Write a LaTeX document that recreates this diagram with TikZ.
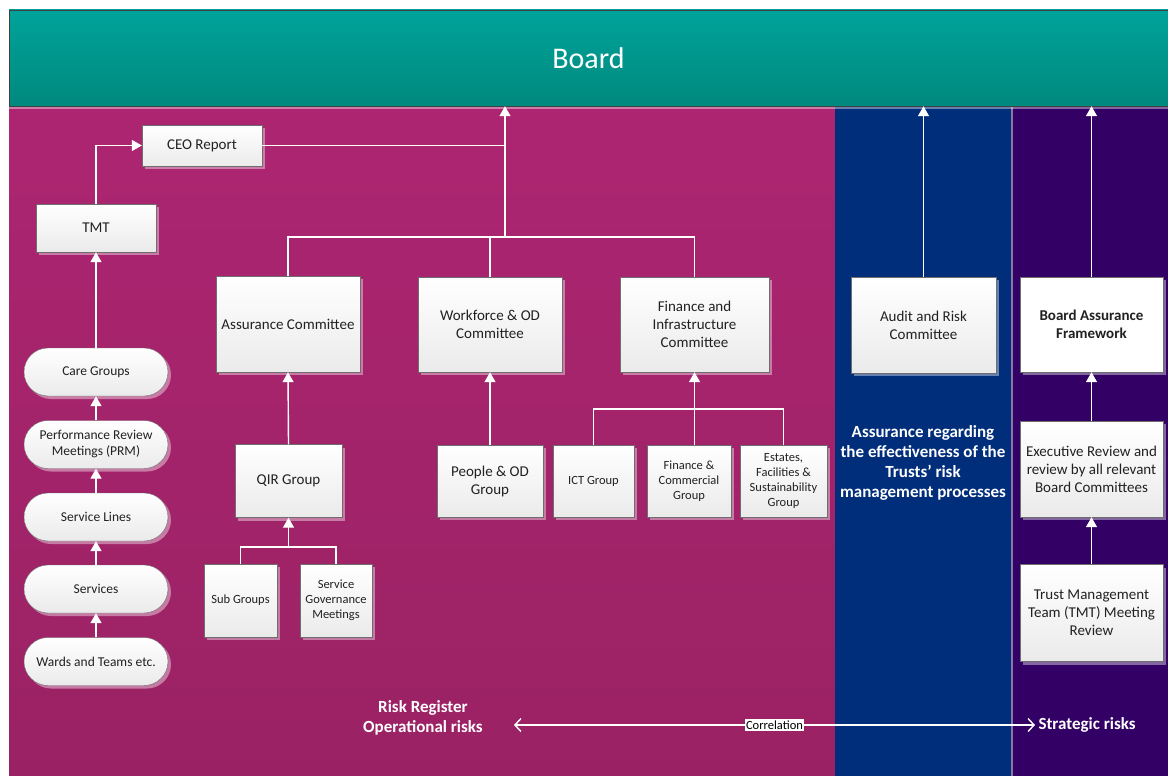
\documentclass[tikz,border=0pt]{standalone}
\usepackage{fontspec}
\setmainfont{Carlito}
\usetikzlibrary{arrows.meta,shadows}
\definecolor{boardtop}{HTML}{00A39A}
\definecolor{boardbot}{HTML}{00897E}
\definecolor{magtop}{HTML}{AD2571}
\definecolor{magbot}{HTML}{9A2264}
\definecolor{assurblue}{HTML}{012E7B}
\definecolor{bafpurple}{HTML}{330066}
\definecolor{divgrey}{HTML}{8878A8}

\begin{document}
\begin{tikzpicture}[x=1pt, y=-1pt,
    box/.style={draw=black!57, top color=white, bottom color=black!8, text=black!87,
        align=center, inner sep=2pt, font=\fontsize{15}{18}\selectfont,
        drop shadow={shadow xshift=3pt, shadow yshift=-3pt, fill=white, opacity=0.4}},
    small/.style={box, font=\fontsize{12.5}{15}\selectfont},
    pill/.style={box, rounded corners=24pt, minimum width=144pt, minimum height=48pt,
        font=\fontsize{13.5}{16}\selectfont},
    link/.style={draw=white, line width=1.4pt},
    uplink/.style={link, -{Triangle[length=10pt, width=11pt]}},
    note/.style={text=white, align=center, font=\bfseries\fontsize{17}{20}\selectfont}]

\useasboundingbox (0,0) rectangle (1168,776);

\fill[top color=magtop, bottom color=magbot] (9,106) rectangle (835,776);
\fill[assurblue] (835,106) rectangle (1012,776);
\fill[bafpurple] (1012,106) rectangle (1168,776);
\draw[divgrey, line width=2pt] (1012,106) -- (1012,776);

\node[draw=black!75, top color=boardtop, bottom color=boardbot, text=white,
    minimum width=1159pt, minimum height=96pt, font=\fontsize{30}{36}\selectfont,
    drop shadow={shadow xshift=0pt, shadow yshift=-2.5pt, fill=white, opacity=0.4}]
    (board) at (588.5,58) {Board};

\node[box, minimum width=120pt, minimum height=41pt] (ceo) at (202,145.5) {CEO Report};
\node[box, minimum width=120pt, minimum height=48pt] (tmt) at (96,228) {TMT};

\node[pill] (care) at (96,372) {Care Groups};
\node[pill] (prm) at (96,444.5) {Performance Review\\Meetings (PRM)};
\node[pill] (lines) at (96,517) {Service Lines};
\node[pill] (services) at (96,589) {Services};
\node[pill] (wards) at (96,661.5) {Wards and Teams etc.};

\node[box, minimum width=144pt, minimum height=96pt] (assur) at (288,324) {Assurance Committee};
\node[box, minimum width=107pt, minimum height=73pt] (qir) at (288.5,481) {QIR Group};
\node[small, minimum width=73pt, minimum height=73pt] (subg) at (240.5,600.5) {Sub Groups};
\node[small, minimum width=72pt, minimum height=73pt] (sgm) at (336,600.5) {Service\\Governance\\Meetings};

\node[box, minimum width=144pt, minimum height=95pt] (wod) at (490,324.5) {Workforce \& OD\\Committee};
\node[box, minimum width=106pt, minimum height=72pt] (pod) at (490,481) {People \& OD\\Group};

\node[box, minimum width=149pt, minimum height=95pt] (fic) at (694.5,324.5) {Finance and\\Infrastructure\\Committee};
\node[small, minimum width=81pt, minimum height=72pt] (ict) at (593.5,481) {ICT Group};
\node[small, minimum width=84pt, minimum height=72pt] (fcg) at (689,481) {Finance \&\\Commercial\\Group};
\node[small, minimum width=87pt, minimum height=72pt] (efs) at (783.5,481) {Estates,\\Facilities \&\\Sustainability\\Group};

\node[box, minimum width=145pt, minimum height=96pt] (arc) at (923.5,325) {Audit and Risk\\Committee};
\node[note] (assure) at (923,463) {Assurance regarding\\the effectiveness of the\\Trusts’ risk\\management processes};

\node[box, fill=white, top color=white, bottom color=white, font=\bfseries\fontsize{15}{18}\selectfont,
    minimum width=143pt, minimum height=95pt] (baf) at (1091.5,324.5) {Board Assurance\\Framework};
\node[box, minimum width=143pt, minimum height=96pt] (exec) at (1091.5,469) {Executive Review and\\review by all relevant\\Board Committees};
\node[box, minimum width=143pt, minimum height=97pt] (tmtr) at (1091.5,613) {Trust Management\\Team (TMT) Meeting\\Review};

\node[note] (oprisk) at (423,718) {Risk Register\\Operational risks};
\node[note, anchor=west] (strisk) at (1035,725) {Strategic risks};

\coordinate (hub) at (505,237);
\coordinate (qj) at (288.5,547);
\coordinate (fj) at (694.5,409);
\coordinate (corl) at (514,725);

\draw[uplink] (tmt.north) |- (ceo.west);
\draw[link] (ceo.east) -- (ceo.east -| hub);
\draw[uplink] (hub) -- (hub |- board.south);
\draw[link] (assur.north) |- (hub) -| (fic.north);
\draw[link] (wod.north) -- (wod.north |- hub);

\foreach \lo/\hi in {wards/services, services/lines, lines/prm, prm/care, care/tmt}
    \draw[uplink] (\lo.north) -- (\hi.south);

\draw[uplink] (qir.north) -- (assur.south);
\draw[link] (subg.north) |- (qj) -| (sgm.north);
\draw[uplink] (qj) -- (qir.south);

\draw[uplink] (pod.north) -- (wod.south);
\draw[link] (ict.north) |- (fj) -| (efs.north);
\draw[uplink] (fic.south |- fcg.north) -- (fic.south);

\draw[uplink] (arc.north) -- (arc.north |- board.south);
\draw[uplink] (baf.north) -- (baf.north |- board.south);
\draw[uplink] (exec.north) -- (baf.south);
\draw[uplink] (tmtr.north) -- (exec.south);

\draw[link, {Straight Barb[length=6pt, width=13pt]}-{Straight Barb[length=6pt, width=13pt]}]
    (corl) -- node[fill=white, text=black, inner sep=1.5pt, font=\fontsize{12.5}{14}\selectfont] {Correlation} (strisk.west);

\end{tikzpicture}
\end{document}
